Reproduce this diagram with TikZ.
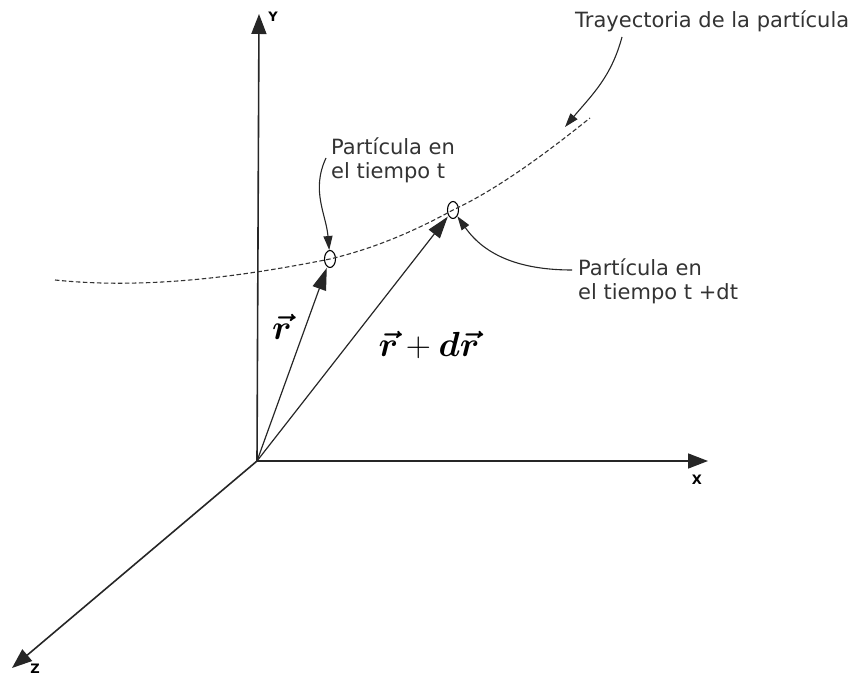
\documentclass[tikz,border=0pt]{standalone}
\usepackage{fontspec}
\usepackage{amsmath}
\usepackage{graphicx}
\setmainfont{DejaVu Sans}
\usetikzlibrary{shapes.geometric,arrows.meta}

\begin{document}
\begin{tikzpicture}[
  x=1pt, y=1pt,
  axis/.style={line width=1.6pt, black!85, -{Triangle[length=20pt,width=15pt]}},
  vec/.style={line width=1.2pt, black!85, -{Triangle[length=22pt,width=14pt]}, shorten >=1pt},
  callout/.style={line width=1.1pt, black!85, -{Triangle[length=14pt,width=9pt]}},
  traj/.style={line width=1.1pt, black!80, dash pattern=on 4.5pt off 2.5pt},
  particle/.style={draw, ellipse, line width=1.1pt, minimum width=11pt, minimum height=17pt, inner sep=0pt},
  lbl/.style={anchor=north west, inner sep=0pt, align=left, text=black!80,
    font=\fontsize{21}{24}\selectfont},
  axlbl/.style={inner sep=0pt, font=\fontsize{13}{15}\selectfont\bfseries},
  mathlbl/.style={inner sep=0pt, font=\fontsize{24}{28}\selectfont},
]
  \useasboundingbox (0,0) rectangle (862,678);

  % axes
  \coordinate (O)  at (257,217);
  \coordinate (ye) at (259,664);
  \coordinate (xe) at (708,217);
  \coordinate (ze) at (12,10);
  \draw[axis] (O) -- (ye);
  \draw[axis] (O) -- (xe);
  \draw[axis] (O) -- (ze);
  \node[axlbl] (ylab) at (273,661) {Y};
  \node[axlbl] (xlab) at (697,198) {X};
  \node[axlbl] (zlab) at (35,9)    {Z};

  % trajectory and particles
  \node[particle] (p1) at (330,419) {};
  \node[particle] (p2) at (453,468) {};
  \coordinate (ts) at (55,398);
  \coordinate (te) at (590,560);
  \draw[traj] (ts) .. controls (150,388) and (250,403) .. (p1.center)
                   .. controls (380,431) and (420,450) .. (p2.center)
                   .. controls (500,490) and (550,528) .. (te);

  % position vectors
  \draw[vec] (O) -- (p1);
  \draw[vec] (O) -- (p2);
  \node[mathlbl] (rlab)  at (282,351) {\scalebox{1.4}{$\boldsymbol{\vec{r}}$}};
  \node[mathlbl] (drlab) at (429,333) {\scalebox{1.4}{$\boldsymbol{\vec{r}} + \boldsymbol{d\vec{r}}$}};

  % labels
  \node[lbl] (lab1) at (331,540) {Partícula en\\el tiempo t};
  \node[lbl] (lab2) at (578,419) {Partícula en\\el tiempo t +dt};
  \node[lbl] (lab3) at (575,667) {Trayectoria de la partícula};
  \coordinate (tr) at (565,551);

  \draw[callout] ([xshift=-5pt,yshift=-20pt]lab1.north west) to[out=245,in=95] (p1);
  \draw[callout] ([xshift=-6pt,yshift=-11pt]lab2.north west) to[out=180,in=-55] (p2);
  \draw[callout] ([xshift=47pt,yshift=-26pt]lab3.north west) to[out=255,in=50] (tr);
\end{tikzpicture}
\end{document}
